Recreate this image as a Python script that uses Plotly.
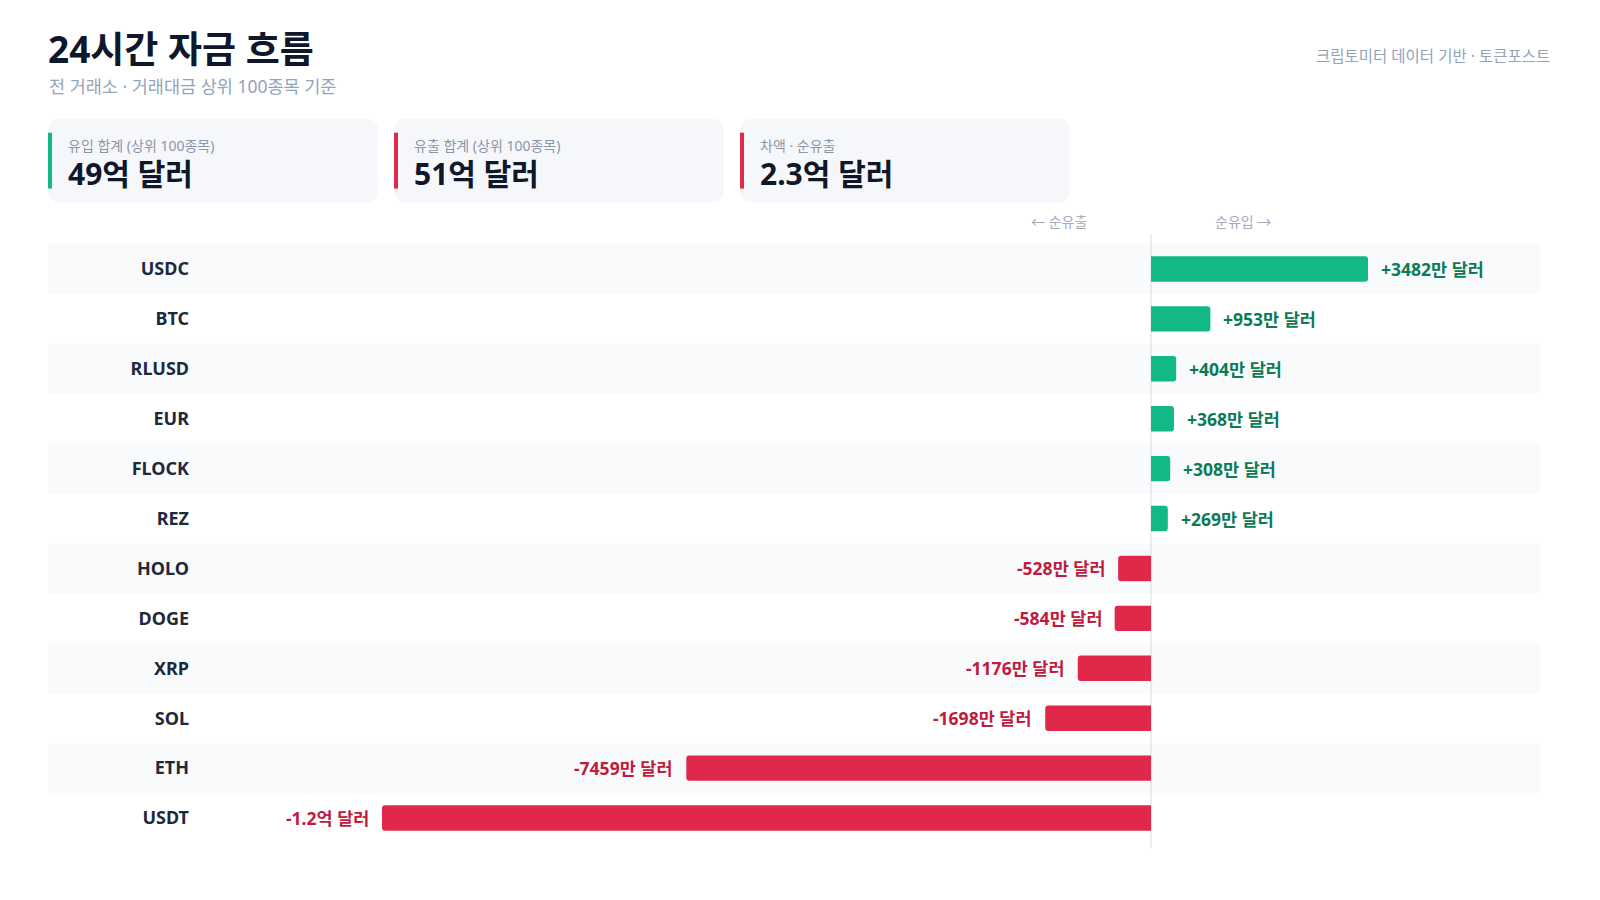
import plotly.graph_objects as go

# ---------------- data ----------------
categories = ["USDC", "BTC", "RLUSD", "EUR", "FLOCK", "REZ",
              "HOLO", "DOGE", "XRP", "SOL", "ETH", "USDT"]
net_flow_man = [3482, 953, 404, 368, 308, 269,
                -528, -584, -1176, -1698, -7459, -12343]  # 단위: 만 달러

card_labels = ["유입 합계 (상위 100종목)", "유출 합계 (상위 100종목)", "차액 · 순유출"]
card_values = ["49억 달러", "51억 달러", "2.3억 달러"]
card_kinds = ["in", "out", "out"]

title_text = "24시간 자금 흐름"
subtitle_text = "전 거래소 · 거래대금 상위 100종목 기준"
source_text = "크립토미터 데이터 기반 · 토큰포스트"
left_hint = "← 순유출"
right_hint = "순유입 →"

x_range = [-15264, 6243]

# ---------------- style ----------------
FONT = "Noto Sans, Noto Sans CJK KR"
GREEN = "#12b886"
GREEN_TXT = "#0b7a57"
RED = "#e0284b"
RED_TXT = "#be1c3c"
DARK = "#0f172a"
CAT_COL = "#1e293b"
GRAY = "#94a3b8"
BAND = "#f8fafc"
CARD_BG = "#f5f7fb"

OFF = 8  # page body margin
W, H = 1600 - 2 * OFF, 900 - 2 * OFF
PL, PR, PT, PB = 200, 1540, 243.5, 843.5
L, R, T, B = PL - OFF, (W + OFF) - PR, PT - OFF, (H + OFF) - PB
PW, PH = PR - PL, PB - PT


def px(x):
    return (x - PL) / PW


def py(y):
    return (PB - y) / PH


def fmt(v):
    sign = "+" if v > 0 else "-"
    a = abs(v)
    if a >= 10000:
        return f"{sign}{a / 10000:.1f}억 달러"
    return f"{sign}{a}만 달러"


colors = [GREEN if v > 0 else RED for v in net_flow_man]

fig = go.Figure()
fig.add_trace(go.Bar(
    x=net_flow_man, y=categories, orientation="h",
    marker=dict(color=colors, line=dict(width=0)),
    width=0.51, hoverinfo="skip",
))

shapes = []
for i, c in enumerate(categories):
    if i % 2 == 0:
        shapes.append(dict(type="rect", xref="paper", yref="y",
                           x0=px(48), x1=px(1540), y0=i - 0.5, y1=i + 0.5,
                           fillcolor=BAND, line=dict(width=0), layer="below"))
shapes.append(dict(type="line", xref="x", yref="paper", x0=0, x1=0,
                   y0=py(849), y1=py(234),
                   line=dict(color="#d5dbe3", width=1), layer="below"))


def rrect(x0, y0, x1, y1, r):
    def P(x, y):
        return f"{px(x):.6f},{py(y):.6f}"
    return (f"M {P(x0 + r, y0)} L {P(x1 - r, y0)} Q {P(x1, y0)} {P(x1, y0 + r)} "
            f"L {P(x1, y1 - r)} Q {P(x1, y1)} {P(x1 - r, y1)} "
            f"L {P(x0 + r, y1)} Q {P(x0, y1)} {P(x0, y1 - r)} "
            f"L {P(x0, y0 + r)} Q {P(x0, y0)} {P(x0 + r, y0)} Z")


annotations = []
card_x0 = [48, 394, 740]
for i, (lab, val, kind) in enumerate(zip(card_labels, card_values, card_kinds)):
    x0 = card_x0[i]
    shapes.append(dict(type="path", xref="paper", yref="paper",
                       path=rrect(x0, 118, x0 + 330, 202, 13),
                       fillcolor=CARD_BG, line=dict(width=0), layer="below"))
    shapes.append(dict(type="rect", xref="paper", yref="paper",
                       x0=px(x0), x1=px(x0 + 4), y0=py(188), y1=py(132),
                       fillcolor=GREEN if kind == "in" else RED,
                       line=dict(width=0), layer="below"))
    annotations.append(dict(xref="paper", yref="paper", x=px(x0 + 18), y=py(145),
                            xanchor="left", yanchor="middle", showarrow=False,
                            text=lab, font=dict(family=FONT, size=14, color="#8b95a7")))
    annotations.append(dict(xref="paper", yref="paper", x=px(x0 + 18), y=py(173),
                            xanchor="left", yanchor="middle", showarrow=False,
                            text=f"<b>{val}</b>",
                            font=dict(family=FONT, size=30, color=DARK)))

annotations.append(dict(xref="paper", yref="paper", x=px(46), y=py(48),
                        xanchor="left", yanchor="middle", showarrow=False,
                        text=f"<b>{title_text}</b>",
                        font=dict(family=FONT, size=37, color=DARK)))
annotations.append(dict(xref="paper", yref="paper", x=px(47), y=py(85),
                        xanchor="left", yanchor="middle", showarrow=False,
                        text=subtitle_text,
                        font=dict(family=FONT, size=17.5, color=GRAY)))
annotations.append(dict(xref="paper", yref="paper", x=px(1552), y=py(55),
                        xanchor="right", yanchor="middle", showarrow=False,
                        text=source_text,
                        font=dict(family=FONT, size=15.5, color=GRAY)))
annotations.append(dict(xref="paper", yref="paper", x=px(1089), y=py(221),
                        xanchor="right", yanchor="middle", showarrow=False,
                        text=left_hint, font=dict(family=FONT, size=14, color="#a3acba")))
annotations.append(dict(xref="paper", yref="paper", x=px(1213), y=py(221),
                        xanchor="left", yanchor="middle", showarrow=False,
                        text=right_hint, font=dict(family=FONT, size=14, color="#a3acba")))

for c, v in zip(categories, net_flow_man):
    pos = v > 0
    annotations.append(dict(xref="x", yref="y", x=v, y=c,
                            xanchor="left" if pos else "right", yanchor="middle",
                            xshift=11 if pos else -11, showarrow=False,
                            text=f"<b>{fmt(v)}</b>",
                            font=dict(family=FONT, size=17.5,
                                      color=GREEN_TXT if pos else RED_TXT)))

fig.update_layout(
    width=W, height=H,
    margin=dict(l=L, r=R, t=T, b=B, pad=0),
    paper_bgcolor="white", plot_bgcolor="rgba(0,0,0,0)",
    showlegend=False, barcornerradius=3,
    font=dict(family=FONT),
    xaxis=dict(range=x_range, showgrid=False, zeroline=False,
               showticklabels=False, ticks="", showline=False, fixedrange=True),
    yaxis=dict(type="category", categoryorder="array", categoryarray=categories,
               range=[len(categories) - 0.5, -0.5], showgrid=False, zeroline=False,
               showline=False, ticks="", ticklabelstandoff=10,
               tickfont=dict(family=FONT, size=18, color=CAT_COL),
               tickvals=categories, ticktext=[f"<b>{c}</b>" for c in categories],
               fixedrange=True),
    shapes=shapes, annotations=annotations,
)

fig.write_html("out.html", config={"displayModeBar": False})
